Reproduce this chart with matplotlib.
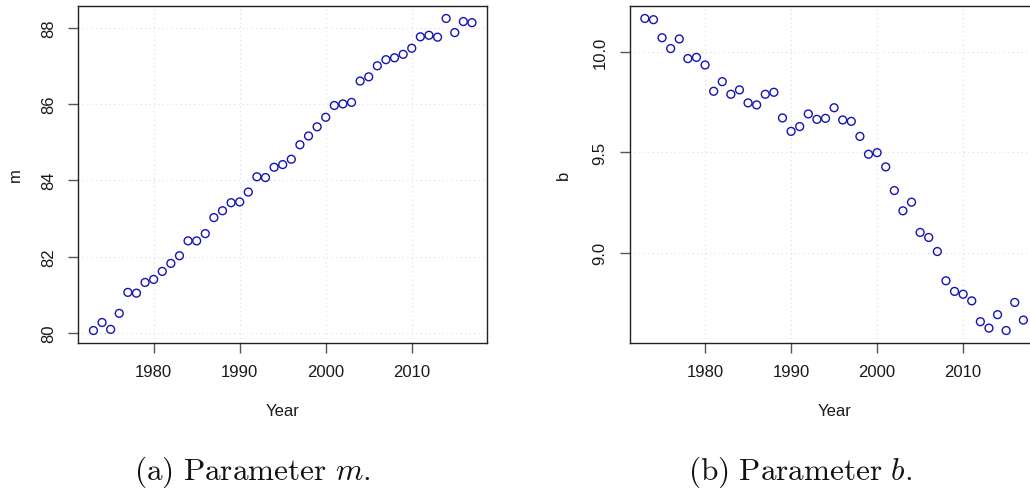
import matplotlib
matplotlib.use("Agg")
import matplotlib.pyplot as plt

plt.rcParams['font.family'] = ['Liberation Sans', 'DejaVu Sans']
plt.rcParams['mathtext.fontset'] = 'cm'

years = list(range(1973, 2018))
m_values = [80.06, 80.27, 80.09, 80.51, 81.06, 81.04, 81.32, 81.40, 81.61, 81.82,
            82.02, 82.41, 82.41, 82.60, 83.02, 83.20, 83.41, 83.43, 83.69, 84.09,
            84.07, 84.34, 84.41, 84.55, 84.93, 85.16, 85.40, 85.65, 85.96, 86.00,
            86.04, 86.60, 86.71, 87.00, 87.16, 87.21, 87.30, 87.46, 87.76, 87.80,
            87.75, 88.24, 87.87, 88.16, 88.13]
b_values = [10.167, 10.161, 10.071, 10.017, 10.065, 9.967, 9.973, 9.935, 9.804, 9.852,
            9.789, 9.811, 9.746, 9.736, 9.789, 9.799, 9.671, 9.604, 9.628, 9.691,
            9.664, 9.669, 9.722, 9.661, 9.654, 9.579, 9.490, 9.498, 9.427, 9.309,
            9.208, 9.251, 9.100, 9.075, 9.005, 8.859, 8.806, 8.792, 8.759, 8.655,
            8.623, 8.690, 8.611, 8.751, 8.663]
x_ticks = [1980, 1990, 2000, 2010]
m_ticks = [80, 82, 84, 86, 88]
b_ticks = [9.0, 9.5, 10.0]
b_ticklabels = ["9.0", "9.5", "10.0"]

W, H = 1030, 489
fig = plt.figure(figsize=(W / 100, H / 100), dpi=100)

def rpad(vals):
    lo, hi = min(vals), max(vals)
    d = (hi - lo) * 0.04
    return lo - d, hi + d

def make_ax(left_px, yvals, yticks, yticklabels, ylabel, ylabel_x, caption, cap_x):
    bottom_px, top_px = 344, 7
    width_px = 408.8
    ax = fig.add_axes([left_px / W, 1 - bottom_px / H, width_px / W, (bottom_px - top_px) / H])
    ax.scatter(years, yvals, s=32, facecolors='none', edgecolors='#1414b4', linewidths=1.0, zorder=3)
    ax.set_xlim(*rpad(years))
    ax.set_ylim(*rpad(yvals))
    ax.set_xticks(x_ticks)
    ax.set_yticks(yticks)
    ax.set_yticklabels(yticklabels, rotation=90, va='center')
    ax.grid(True, color='#dddddd', linestyle=(0, (1, 3)), linewidth=0.8)
    ax.set_axisbelow(True)
    for s in ax.spines.values():
        s.set_color('#222222')
        s.set_linewidth(1.0)
    ax.tick_params(axis='both', direction='out', length=7, width=1.0, color='#555555',
                   labelsize=12, labelcolor='#1a1a1a')
    ax.tick_params(axis='x', pad=8)
    ax.tick_params(axis='y', pad=9)
    fig.text(ylabel_x / W, 1 - 175 / H, ylabel, rotation=90, ha='center', va='center',
             fontsize=12, color='#1a1a1a')
    fig.text((left_px + width_px / 2) / W, 1 - 412 / H, "Year", ha='center', va='center',
             fontsize=12, color='#1a1a1a')
    fig.text(cap_x / W, 1 - 472 / H, caption, ha='center', va='center', fontsize=22.5, color='#111111')
    return ax

make_ax(78.3, m_values, m_ticks, [str(t) for t in m_ticks], "m", 15,
        r"$\mathrm{(a)\ Parameter}\ m.$", 252)
make_ax(629.7, b_values, b_ticks, b_ticklabels, "b", 563,
        r"$\mathrm{(b)\ Parameter}\ b.$", 800)

fig.savefig("out.png", dpi=100)
